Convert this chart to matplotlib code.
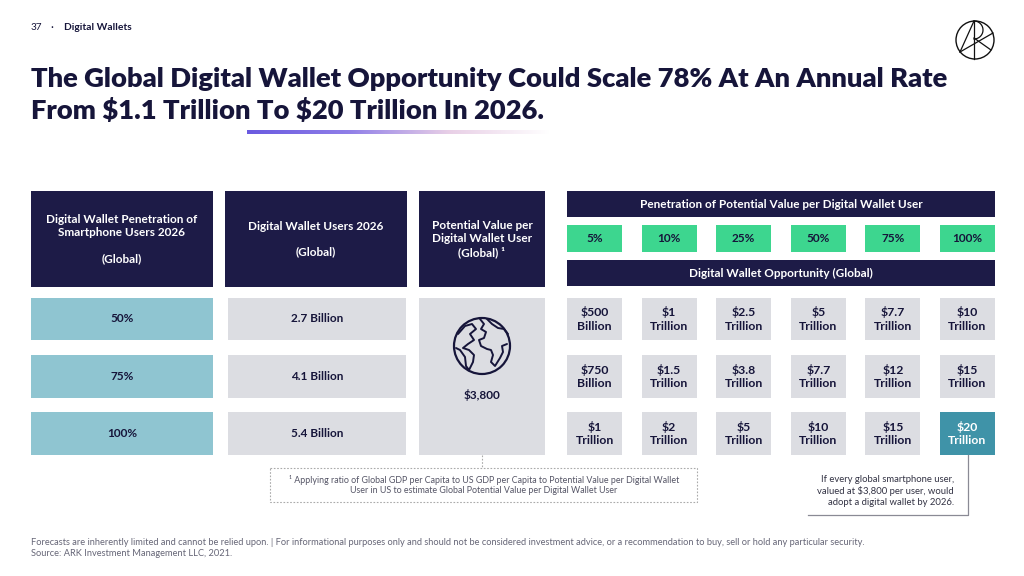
import matplotlib
matplotlib.use("Agg")
import matplotlib.pyplot as plt
from matplotlib.patches import Rectangle, Circle
from matplotlib.colors import LinearSegmentedColormap
import numpy as np

# ---------------- data ----------------
page_number = "37"
section = "Digital Wallets"
title_lines = ["The Global Digital Wallet Opportunity Could Scale 78% At An Annual Rate",
               "From $1.1 Trillion To $20 Trillion In 2026."]

col_headers = ["Digital Wallet Penetration of\nSmartphone Users 2026\n\n(Global)",
               "Digital Wallet Users 2026\n\n(Global)",
               "Potential Value per\nDigital Wallet User\n(Global) \u00b9"]
smartphone_penetration = ["50%", "75%", "100%"]
wallet_users = ["2.7 Billion", "4.1 Billion", "5.4 Billion"]
value_per_user = "$3,800"

value_header = "Penetration of Potential Value per Digital Wallet User"
value_penetration = ["5%", "10%", "25%", "50%", "75%", "100%"]
opportunity_header = "Digital Wallet Opportunity (Global)"
opportunity = [
    ["$500\nBillion", "$1\nTrillion", "$2.5\nTrillion", "$5\nTrillion", "$7.7\nTrillion", "$10\nTrillion"],
    ["$750\nBillion", "$1.5\nTrillion", "$3.8\nTrillion", "$7.7\nTrillion", "$12\nTrillion", "$15\nTrillion"],
    ["$1\nTrillion", "$2\nTrillion", "$5\nTrillion", "$10\nTrillion", "$15\nTrillion", "$20\nTrillion"],
]
highlight = (2, 5)

footnote = ("\u00b9 Applying ratio of Global GDP per Capita to US GDP per Capita to Potential Value per Digital Wallet\n"
            "User in US to estimate Global Potential Value per Digital Wallet User")
callout = "If every global smartphone user,\nvalued at $3,800 per user, would\nadopt a digital wallet by 2026."
disclaimer = ("Forecasts are inherently limited and cannot be relied upon. | For informational purposes only and should not be "
              "considered investment advice, or a recommendation to buy, sell or hold any particular security.\n"
              "Source: ARK Investment Management LLC, 2021.")

# ---------------- style ----------------
NAVY = "#1d1b47"
TEAL_L = "#8fc5d1"
GRAY = "#dcdde2"
GREEN = "#3dd68f"
TEAL_D = "#3f93a8"
TXT = "#16153a"
FONT = ["Lato", "DejaVu Sans"]
plt.rcParams['font.family'] = FONT

W, H = 1024, 576
fig = plt.figure(figsize=(W / 100, H / 100), dpi=100)
ax = fig.add_axes([0, 0, 1, 1])
ax.set_xlim(0, W)
ax.set_ylim(H, 0)
ax.axis("off")


def txt(x, y, s, **kw):
    return ax.text(x, y, s, parse_math=False, **kw)


def box(x0, y0, x1, y1, color, text="", tcolor=TXT, size=8.5, weight="bold", ls=1.25):
    ax.add_patch(Rectangle((x0, y0), x1 - x0, y1 - y0, facecolor=color, edgecolor="none"))
    if text:
        txt((x0 + x1) / 2, (y0 + y1) / 2, text, ha="center", va="center", color=tcolor,
            fontsize=size, fontweight=weight, linespacing=ls)


# header strip
txt(31, 28, page_number, fontsize=7.2, color=TXT, va="center")
txt(50, 28, "\u00b7", fontsize=8, color=TXT, va="center")
txt(64, 28, section, fontsize=7.4, color=TXT, va="center", fontweight="bold")

# logo
cx, cy, r = 975, 40, 19
ax.add_patch(Circle((cx, cy), r, fill=False, lw=1.0, color="#111111"))
ax.plot([cx - 1, cx - 1], [cy - r, cy + r], color="#111111", lw=0.9)
ax.plot([cx - 1, cx - 15], [cy - r, cy + 12], color="#111111", lw=0.9)
ax.plot([cx - 15, cx + 18], [cy + 12, cy - 7], color="#111111", lw=0.9)
ax.plot([cx - 1, cx + 16], [cy - 2, cy + 10], color="#111111", lw=0.9)
tt = np.linspace(-np.pi / 2, np.pi / 2, 30)
ax.plot(cx - 1 + 9 * np.cos(tt), cy - r + 9 + 9 * np.sin(tt), color="#111111", lw=0.9)

# title (fit line 1 to reference width)
renderer = fig.canvas.get_renderer()
t1 = txt(31, 79, title_lines[0], fontsize=17, fontweight="heavy", color=TXT, va="center")
w = t1.get_window_extent(renderer).width
fs = 17 * 919 / w
t1.set_fontsize(fs)
txt(31, 110, title_lines[1], fontsize=fs, fontweight="heavy", color=TXT, va="center")

# gradient underline
grad = np.linspace(0, 1, 256)[None, :]
cmap = LinearSegmentedColormap.from_list("g", ["#6a5ae0", "#8f7ee8", "#e8cfe6", "#ffffff"])
ax.imshow(grad, cmap=cmap, extent=(247, 550, 134, 130), aspect="auto", zorder=1)

# left columns
col_x = [(31, 213), (225, 407), (419, 545)]
hy0, hy1 = 191, 287
row_y = [(298, 340), (355, 398), (412, 455)]
for (x0, x1), head in zip(col_x, col_headers):
    box(x0, hy0, x1, hy1, NAVY, head, tcolor="white", size=8.5, ls=1.2)

for (y0, y1), p in zip(row_y, smartphone_penetration):
    box(31, y0, 213, y1, TEAL_L, p)
for (y0, y1), u in zip(row_y, wallet_users):
    box(228, y0, 406, y1, GRAY, u)

box(419, 298, 545, 455, GRAY)
txt(482, 395, value_per_user, ha="center", va="center", fontsize=8.5, fontweight="bold", color=TXT)

# globe icon
gx, gy, gr = 482, 346, 28
ax.add_patch(Circle((gx, gy), gr, fill=False, lw=1.6, color=TXT))
am = np.array([[-24, -12], [-17, -20], [-10, -22], [-6, -17], [-12, -12], [-8, -6], [-14, -2],
               [-19, 2], [-13, 4], [-8, 9], [-9, 16], [-13, 24], [-16, 20], [-17, 11], [-22, 4], [-26, 2]])
ax.plot(gx + am[:, 0], gy + am[:, 1], color=TXT, lw=1.4, solid_capstyle="round")
af = np.array([[-2, -27], [2, -22], [-1, -17], [4, -14], [2, -8], [-3, -6], [-1, 0], [5, 3],
               [9, 4], [11, 9], [9, 16], [13, 20], [18, 12], [21, 6], [20, 0], [25, -2]])
ax.plot(gx + af[:, 0], gy + af[:, 1], color=TXT, lw=1.4, solid_capstyle="round")
ea = np.array([[5, -27], [10, -22], [16, -18], [22, -17], [26, -12]])
ax.plot(gx + ea[:, 0], gy + ea[:, 1], color=TXT, lw=1.4, solid_capstyle="round")

# right side
cell_x0, cell_w, cell_step = 567, 55, 74.6
box(567, 191, 995, 217, NAVY, value_header, tcolor="white", size=8.5)
for i, v in enumerate(value_penetration):
    x0 = cell_x0 + i * cell_step
    box(x0, 225, x0 + cell_w, 252, GREEN, v)
box(567, 260, 995, 286, NAVY, opportunity_header, tcolor="white", size=8.5)
for r_i, row in enumerate(opportunity):
    y0, y1 = row_y[r_i]
    for c_i, lab in enumerate(row):
        x0 = cell_x0 + c_i * cell_step
        if (r_i, c_i) == highlight:
            box(x0, y0, x0 + cell_w, y1, TEAL_D, lab, tcolor="white", size=8.8, ls=1.3)
        else:
            box(x0, y0, x0 + cell_w, y1, GRAY, lab, size=8.8, ls=1.3)

# footnote box
ax.plot([482, 482], [455, 468], color="#aaaaaa", lw=0.8, ls=(0, (1.5, 1.5)))
ax.add_patch(Rectangle((270, 468), 427, 34, fill=False, edgecolor="#aaaaaa", lw=0.8, ls=(0, (1.5, 1.5))))
txt(484, 485, footnote, ha="center", va="center", fontsize=6.4, color="#555566", linespacing=1.25)

# callout
hx = cell_x0 + 5 * cell_step + cell_w / 2
ax.plot([hx, hx, 808], [455, 515, 515], color="#8a8a95", lw=0.9)
txt(954, 491, callout, ha="right", va="center", fontsize=6.8, color="#333344", linespacing=1.3)

# disclaimer
txt(31, 548, disclaimer, ha="left", va="center", fontsize=6.7, color="#666677", linespacing=1.35)

fig.savefig("out.png", dpi=100)
